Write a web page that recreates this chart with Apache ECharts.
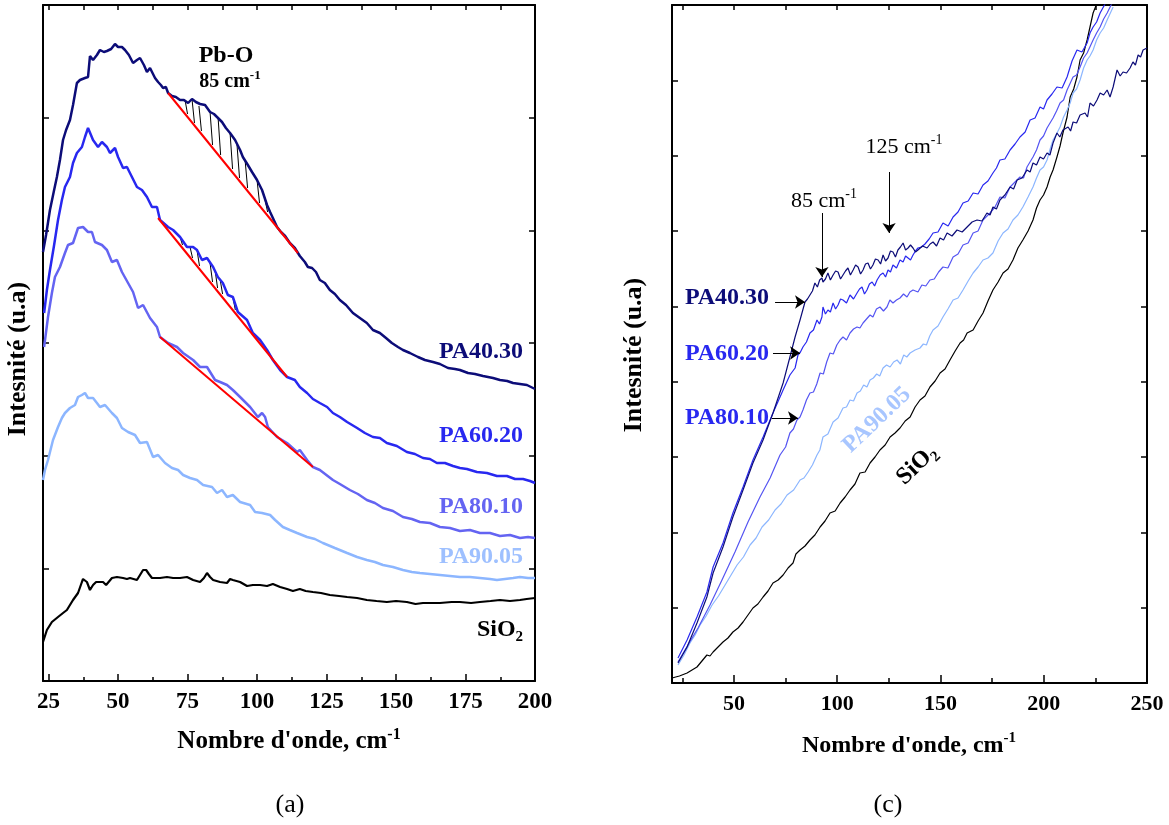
<!DOCTYPE html>
<html><head><meta charset="utf-8">
<script src="https://cdn.jsdelivr.net/npm/echarts@6/dist/echarts.min.js"></script>
<style>html,body{margin:0;padding:0;background:#fff}#c{width:1169px;height:825px}</style>
</head><body><div id="c"></div>
<script>
// ---------------- tick values ----------------
const ticksA_major = [25,50,75,100,125,150,175,200];
const ticksA_minor = [37.5,62.5,87.5,112.5,137.5,162.5,187.5];
const ticksC_major = [50,100,150,200,250];
const ticksC_minor = [25,75,125,175,225];

// ---------------- Panel (a) : [wavenumber cm-1, intensity a.u.] ----------------
const a_PA4030 = [[23.0,429],[24.1,446],[25.5,471],[27.0,491],[28.0,504],[29.1,521],[30.2,541],[31.3,551],[32.7,561],[33.8,576],
[35.2,598],[36.3,601],[38.1,603],[39.2,604],[39.9,625],[41.0,621],[42.4,626],[43.5,631],[44.9,629],[46.0,630],
[47.5,632],[48.9,637],[50.0,634],[51.4,634],[52.5,631],[53.9,626],[55.4,618],[56.8,621],[57.9,623],[59.3,616],
[60.4,609],[61.5,613],[62.2,611],[63.3,603],[64.4,599],[65.4,596],[66.2,593],[67.2,594],[68.0,588],[69.4,585],
[70.8,584],[72.3,581],[73.7,581],[75.2,578],[76.6,582],[78.0,579],[79.5,577],[81.3,576],[83.1,569],[84.5,567],
[85.6,564],[87.4,559],[88.8,553],[90.3,548],[92.1,541],[93.9,531],[94.9,524],[96.7,516],[98.2,509],[100.0,501],
[101.8,491],[103.6,476],[104.7,469],[105.7,463],[107.2,454],[108.6,449],[110.1,445],[111.8,438],[113.6,433],[115.4,425],
[117.2,419],[118.3,414],[119.8,413],[121.2,409],[122.6,401],[124.4,398],[126.2,391],[128.0,387],[129.8,381],[132.0,376],
[134.5,368],[137.0,363],[139.5,358],[141.7,351],[144.2,348],[146.4,343],[148.5,338],[150.7,334],[152.5,331],[155.0,328],
[157.9,324],[160.4,321],[163.3,319],[165.8,317],[168.7,313],[171.2,312],[173.0,311],[175.9,308],[178.4,307],[181.3,305],
[184.9,303],[187.4,301],[190.0,300],[192.1,298],[194.6,297],[197.1,296],[200.0,292]];

const a_PA6020 = [[23.4,368],[24.4,391],[25.5,411],[27.0,436],[28.4,461],[29.8,481],[30.9,494],[32.7,504],[33.8,518],[35.2,528],
[37.0,534],[38.1,544],[39.2,553],[39.9,551],[41.0,541],[42.8,534],[44.2,539],[46.0,534],[47.1,528],[48.9,533],
[50.0,524],[51.8,513],[53.2,514],[55.0,504],[56.8,494],[58.6,491],[60.4,484],[62.2,474],[64.0,474],[65.1,461],
[68.0,454],[69.8,451],[72.3,444],[74.8,434],[77.0,434],[78.4,431],[80.2,421],[82.0,423],[84.2,414],[85.9,404],
[87.7,398],[89.5,386],[91.3,384],[93.1,369],[96.4,361],[98.5,348],[101.1,341],[103.6,331],[105.7,321],[108.3,311],
[110.8,304],[113.6,301],[115.4,294],[118.0,288],[120.1,282],[122.6,278],[125.2,274],[127.3,268],[129.8,264],[132.4,259],
[136.0,253],[138.8,248],[141.7,244],[144.2,243],[146.7,238],[150.3,235],[153.9,229],[156.8,227],[159.7,223],[162.2,222],
[164.7,218],[167.6,218],[170.5,215],[173.0,213],[175.5,212],[179.1,209],[182.7,208],[186.3,205],[189.9,205],[192.8,202],
[195.7,202],[198.2,200],[200.0,198]];

const a_PA8010 = [[23.4,334],[24.8,364],[26.2,388],[27.3,404],[29.1,414],[30.9,428],[32.0,436],[33.8,438],[35.6,453],[37.4,454],
[39.2,449],[40.6,449],[41.7,439],[44.2,436],[46.0,431],[47.8,419],[49.6,421],[51.4,409],[53.6,398],[55.4,389],
[57.2,373],[59.0,376],[61.5,363],[64.0,354],[65.1,344],[68.0,338],[71.2,334],[73.4,328],[77.0,321],[79.5,314],
[82.0,314],[84.9,301],[86.7,299],[89.2,296],[91.3,291],[93.9,284],[97.5,274],[100.3,264],[101.8,268],[102.9,264],
[103.9,254],[107.2,244],[110.8,238],[114.4,229],[115.4,231],[118.0,221],[120.1,214],[122.6,211],[127.3,201],[129.8,197],
[133.4,191],[136.3,187],[139.5,181],[142.4,178],[145.3,173],[148.9,170],[152.5,164],[155.7,162],[158.6,159],[162.2,158],
[165.8,154],[169.4,153],[173.0,150],[176.6,151],[180.2,148],[183.8,148],[187.4,145],[191.0,146],[194.6,143],[197.5,144],[200.0,143]];

const a_PA9005 = [[23.0,201],[23.7,211],[24.8,221],[26.6,241],[28.4,254],[29.8,263],[30.9,268],[32.7,273],[34.5,276],[35.6,284],
[37.0,286],[38.1,288],[39.2,283],[41.0,283],[42.4,278],[43.5,274],[45.3,276],[47.8,268],[49.6,263],[51.4,253],
[53.6,249],[56.1,246],[57.9,238],[60.4,239],[62.6,224],[64.4,226],[66.9,218],[69.4,213],[71.6,211],[73.4,206],
[75.9,203],[78.4,201],[80.6,196],[83.8,194],[85.6,188],[87.4,191],[89.2,184],[91.3,186],[93.9,179],[97.5,176],
[99.3,169],[101.8,168],[104.7,166],[106.5,161],[109.3,154],[111.8,151],[114.4,148],[118.0,144],[120.8,142],[123.7,138],
[128.0,133],[132.4,128],[136.0,124],[139.5,121],[142.4,119],[145.3,116],[148.9,114],[152.5,111],[155.7,109],[158.6,108],
[162.2,107],[165.8,106],[169.4,105],[173.0,104],[176.6,104],[180.2,103],[183.8,102],[186.3,101],[189.2,102],[192.1,103],
[194.6,104],[197.5,103],[200.0,103]];

const a_SiO2 = [[23.0,39],[24.4,51],[26.2,59],[28.4,64],[30.2,68],[31.6,71],[33.8,81],[35.6,88],[37.0,99],[37.4,102],
[38.1,103],[38.8,99],[39.9,91],[41.0,96],[42.1,99],[42.8,100],[44.6,99],[45.7,96],[46.4,96],[47.8,103],
[49.6,104],[51.8,103],[53.2,102],[54.3,103],[56.8,101],[57.9,106],[59.0,111],[60.1,111],[61.1,107],[62.2,103],
[65.1,103],[67.6,104],[69.8,103],[72.3,103],[74.8,104],[77.0,101],[79.5,99],[80.9,103],[82.0,108],[83.1,104],
[84.2,101],[86.7,99],[89.2,98],[90.3,102],[91.3,101],[93.9,99],[96.4,95],[98.5,96],[101.1,96],[103.6,95],
[105.7,97],[108.3,94],[110.8,92],[112.9,90],[115.4,92],[117.5,90],[120.1,89],[123.0,88],[126.2,86],[129.5,85],
[132.4,84],[136.0,83],[139.5,81],[143.0,80],[146.7,79],[150.0,80],[153.9,79],[157.0,77],[159.7,78],[163.0,78],
[165.8,78],[170.0,79],[173.0,79],[177.0,78],[180.2,79],[184.0,80],[187.4,81],[191.0,80],[194.6,81],[197.0,82],[200.0,83]];

// straight baselines drawn under the Pb-O band
const a_base4030 = [[68.0,588],[114.7,428]];
const a_base6020 = [[64.4,463],[110.8,304]];
const a_base8010 = [[65.1,344],[120.1,214]];
// hatch strokes: [x, top, bottom]
const a_hatch4030 = [[74.1,581,567],[76.6,582,558],[79.1,575,550],[83.1,569,536],[86.0,563,526],[90.3,548,512],[92.8,536,503],[95.7,521,493],[100.0,501,478],[102.9,481,469]];
const a_hatch6020 = [[72.3,444,436],[75.9,434,423],[78.4,431,415],[83.1,418,399],[84.9,411,393],[86.7,402,387],[91.3,384,371]];

// ---------------- Panel (c) ----------------
const c_PA4030 = [[22.9,20],[27.3,36],[32.1,60],[36.9,86],[39.9,110],[44.7,136],[49.5,166],[54.4,193],[59.2,220],[64.1,243],
[68.9,270],[73.8,300],[77.1,326],[79.6,346],[82.0,363],[84.4,381],[85.6,384],[86.8,388],[88.0,392],[89.2,400],[90.4,396],
[91.5,403],[92.6,405],[93.1,401],[94.3,404],[95.5,410],[96.7,403],[98.0,408],[99.2,412],[100.4,411],[101.6,404],[102.8,408],
[104.0,412],[105.2,415],[106.4,408],[107.7,413],[108.9,418],[110.1,416],[111.3,409],[112.5,413],[113.7,419],[114.9,420],
[116.1,414],[117.3,418],[118.5,424],[119.8,423],[121.0,419],[122.2,428],[123.4,422],[124.6,425],[125.8,432],[127.0,431],
[128.2,426],[129.4,433],[130.6,436],[131.9,440],[133.1,433],[134.3,435],[135.5,438],[136.7,435],[137.9,431],[139.1,433],
[141.3,437],[143.5,435],[145.0,439],[146.4,441],[148.1,437],[149.8,445],[151.5,443],[153.2,450],[155.6,447],[158.0,453],
[160.5,451],[162.9,456],[165.3,461],[167.7,463],[170.1,462],[172.5,470],[174.0,468],[175.4,476],[177.1,474],[178.8,483],
[181.2,488],[183.7,496],[185.4,494],[187.1,503],[189.5,505],[191.9,513],[193.4,511],[194.8,520],[196.5,518],[198.2,526],
[199.9,524],[201.6,530],[203.0,528],[204.5,540],[206.4,550],[207.8,546],[209.3,553],[211.8,556],[213.0,552],[214.2,561],
[215.9,560],[217.6,568],[220.0,570],[221.2,566],[222.4,580],[224.1,577],[225.8,583],[227.3,590],[229.0,588],[230.7,593],
[232.1,586],[233.6,596],[235.5,613],[237.0,607],[238.4,611],[240.1,610],[241.8,615],[243.2,621],[244.4,618],[245.7,628],
[246.9,626],[248.1,633],[250.0,635]];

const c_PA6020 = [[22.9,25],[27.3,43],[32.1,66],[36.9,91],[39.9,116],[44.7,140],[49.5,170],[54.4,196],[59.2,223],[64.1,246],
[68.9,270],[73.8,293],[77.1,308],[79.6,315],[81.0,328],[82.2,331],[83.4,336],[85.1,341],[86.8,350],[88.5,353],[90.2,363],
[91.4,359],[92.6,366],[93.1,376],[94.3,369],[95.5,373],[96.7,371],[98.0,380],[99.2,374],[100.4,378],[101.6,384],[102.8,383],
[104.5,380],[106.2,388],[107.9,384],[109.6,390],[110.8,394],[112.0,396],[113.2,389],[114.4,393],[115.6,399],[116.9,401],
[118.1,397],[119.3,403],[120.8,408],[122.2,410],[123.4,406],[124.6,413],[125.8,411],[127.0,418],[128.7,415],[130.4,423],
[131.9,421],[133.1,427],[134.3,425],[135.5,423],[136.7,428],[137.9,432],[139.1,435],[140.8,436],[142.5,439],[144.5,444],
[146.4,450],[148.8,451],[151.2,460],[153.7,457],[156.1,466],[158.5,471],[160.9,480],[163.4,482],[165.8,490],[168.2,489],
[170.6,498],[173.0,502],[175.4,510],[177.1,515],[178.8,523],[181.2,524],[183.7,533],[186.1,539],[188.5,546],[191.0,551],
[193.4,563],[195.8,565],[198.2,576],[199.9,574],[201.6,583],[204.0,589],[206.4,596],[208.9,595],[211.3,606],[213.7,622],
[216.1,633],[218.5,631],[221.0,640],[222.4,650],[223.9,656],[225.6,661],[227.3,670],[230.7,683]];

const c_PA8010 = [[22.9,21],[27.7,38],[32.6,55],[38.4,78],[44.2,103],[50.5,131],[56.8,161],[62.6,186],[67.5,205],[72.3,228],
[75.0,236],[77.1,250],[78.8,254],[80.5,263],[82.0,266],[83.4,273],[85.1,283],[86.8,290],[88.5,291],[90.1,299],[91.7,310],
[93.3,309],[94.9,321],[96.5,330],[98.1,329],[99.8,338],[101.4,343],[102.8,346],[104.5,343],[106.2,350],[107.9,354],
[109.6,356],[111.0,355],[112.5,360],[114.2,364],[115.9,368],[117.3,366],[119.0,374],[120.7,376],[122.4,372],[124.1,376],
[125.5,383],[127.0,380],[128.7,383],[130.4,385],[132.1,389],[133.8,386],[135.2,391],[136.7,393],[139.1,391],[141.0,398],
[142.9,397],[144.9,403],[147.0,404],[149.1,411],[151.2,416],[153.6,415],[156.1,426],[158.5,429],[160.9,438],[163.4,440],
[165.8,450],[168.2,452],[170.6,463],[174.0,470],[176.4,476],[178.8,486],[181.2,485],[183.7,496],[186.1,501],[188.5,506],
[190.2,505],[191.9,516],[194.8,526],[196.5,533],[198.2,543],[199.9,547],[201.6,555],[204.5,565],[206.2,572],[207.9,580],
[209.6,583],[211.3,593],[214.2,606],[215.9,608],[217.6,616],[219.3,625],[221.0,630],[223.9,643],[225.6,650],[227.3,656],
[229.0,664],[230.7,670],[233.1,680]];

const c_PA9005 = [[22.9,18],[25.8,28],[28.7,40],[31.2,48],[33.6,58],[36.5,67],[39.4,78],[42.5,87],[45.7,98],[48.6,108],
[51.5,118],[54.6,126],[57.8,138],[60.7,145],[63.6,156],[66.8,163],[69.9,173],[72.8,179],[75.7,188],[78.9,193],[82.0,203],
[83.9,205],[85.9,211],[88.0,218],[90.2,228],[91.6,233],[93.1,246],[95.5,249],[98.0,261],[100.4,265],[102.8,275],[104.5,276],
[106.2,283],[107.9,282],[109.6,290],[111.2,292],[112.8,298],[114.4,296],[115.9,303],[117.5,305],[119.1,309],[120.6,307],
[122.2,315],[123.9,318],[125.6,316],[127.3,321],[129.0,323],[130.6,319],[132.2,328],[133.7,326],[135.3,330],[137.7,333],
[140.1,335],[141.7,339],[143.2,338],[144.8,347],[146.4,353],[148.8,357],[151.2,366],[153.6,374],[156.1,383],[158.5,385],
[160.9,393],[163.4,402],[165.8,410],[168.2,416],[170.6,423],[173.0,425],[175.4,430],[177.9,442],[180.3,450],[182.7,454],
[185.1,463],[187.5,468],[189.9,476],[192.4,486],[194.8,496],[196.5,505],[198.2,513],[199.9,516],[201.6,523],[203.1,534],
[204.5,543],[206.2,549],[207.9,556],[209.6,566],[211.3,573],[212.8,580],[214.2,590],[215.9,594],[217.6,603],[219.3,615],
[221.0,623],[222.4,627],[223.9,633],[225.6,643],[227.3,650],[229.0,655],[230.7,663],[233.6,676]];

const c_SiO2 = [[20.0,5],[23.6,7],[27.3,10],[29.7,13],[32.1,16],[34.5,22],[36.9,28],[38.4,27],[39.9,31],[42.3,36],[44.7,41],
[47.1,45],[49.5,51],[52.0,55],[54.4,61],[56.8,68],[59.2,75],[61.6,79],[64.1,86],[66.5,92],[68.9,100],[71.4,103],[73.8,108],
[76.2,115],[78.6,120],[80.0,129],[82.0,133],[84.4,137],[86.8,143],[89.2,148],[91.7,156],[94.1,162],[96.5,170],[99.0,172],
[101.4,180],[103.8,186],[106.2,193],[108.6,199],[111.0,210],[113.5,211],[115.9,220],[118.3,226],[120.7,233],[123.2,238],
[125.6,246],[128.0,250],[130.4,255],[132.9,262],[135.3,266],[137.7,276],[140.1,283],[142.5,287],[144.9,296],[147.4,302],
[149.8,310],[152.2,314],[154.6,323],[157.1,332],[159.5,340],[161.2,343],[162.9,350],[165.8,353],[168.2,362],[170.6,370],
[173.0,382],[175.4,393],[177.9,401],[180.3,410],[182.7,414],[185.1,423],[187.5,435],[189.9,443],[192.4,452],[194.8,463],
[196.5,475],[198.2,483],[199.9,488],[201.6,496],[203.1,506],[204.5,513],[206.4,526],[207.9,537],[209.3,550],[211.3,566],
[212.8,586],[214.5,594],[216.1,606],[217.6,623],[219.3,630],[221.0,643],[222.4,656],[223.9,670],[225.8,680]];

// annotation arrows in panel (c): [x1,y1,x2,y2]
const c_arrows = [[92.6,470,92.6,406],[125.1,511,125.1,450],[69.9,381,84.4,381],[68.9,330,82.0,330],[68.4,265,81.0,265]];

// ---------------- chart ----------------
const SERIF = '"Liberation Serif","Times New Roman",serif';
const COL = {n:'#0c0c78', b:'#2828f0', m:'#6464f2', m2:'#5555f2', l:'#8cb6ff', k:'#000000'};

function axisX(grid, min, max, pos, ticks, len, showLine, labels, fs) {
  return {
    type:'value', gridIndex:grid, min:min, max:max, position:pos,
    axisLine:{show:showLine, onZero:false, lineStyle:{color:'#000', width:2}},
    axisTick:{show:true, inside:true, length:len, customValues:ticks, lineStyle:{color:'#000', width:1.5}},
    axisLabel: labels ? {show:true, customValues:labels, margin:10, color:'#000', fontFamily:SERIF, fontWeight:'bold', fontSize:fs}
                      : {show:false},
    splitLine:{show:false}
  };
}
function axisY(grid, max, steps, pos) {
  return {
    type:'value', gridIndex:grid, min:0, max:max, interval:max/steps, position:pos,
    axisLine:{show:true, onZero:false, lineStyle:{color:'#000', width:2}},
    axisTick:{show:true, inside:true, length:6, lineStyle:{color:'#000', width:1.5}},
    axisLabel:{show:false}, splitLine:{show:false}
  };
}

function lineSeries(data, color, width, xi, yi, z) {
  return {type:'line', data:data, xAxisIndex:xi, yAxisIndex:yi, showSymbol:false, symbol:'none',
          lineStyle:{color:color, width:width}, itemStyle:{color:color}, z:z||2, clip:true, animation:false, silent:true};
}
function hatchSeries(h) {
  return {type:'lines', coordinateSystem:'cartesian2d', xAxisIndex:0, yAxisIndex:0, z:1, silent:true, animation:false,
    lineStyle:{color:'#000', width:1, opacity:1},
    data:h.map(r => ({coords:[[r[0], r[1]], [r[0]+0.9, r[2]]]}))};
}

const series = [
  hatchSeries(a_hatch4030), hatchSeries(a_hatch6020),
  lineSeries(a_PA4030, COL.n, 2.5, 0, 0),
  lineSeries(a_PA6020, COL.b, 2.5, 0, 0),
  lineSeries(a_PA8010, COL.m, 2.5, 0, 0),
  lineSeries(a_PA9005, COL.l, 2.5, 0, 0),
  lineSeries(a_SiO2, COL.k, 2.2, 0, 0),
  lineSeries(a_base4030, '#ff0000', 2, 0, 0, 4),
  lineSeries(a_base6020, '#ff0000', 2, 0, 0, 4),
  lineSeries(a_base8010, '#ff0000', 2, 0, 0, 4),
  lineSeries(c_SiO2, COL.k, 1.2, 3, 2),
  lineSeries(c_PA9005, COL.l, 1.2, 3, 2),
  lineSeries(c_PA8010, COL.m2, 1.2, 3, 2),
  lineSeries(c_PA6020, COL.b, 1.2, 3, 2),
  lineSeries(c_PA4030, COL.n, 1.2, 3, 2),
  {type:'lines', coordinateSystem:'cartesian2d', xAxisIndex:3, yAxisIndex:2, z:5, silent:true, animation:false,
   symbol:['none','arrow'], symbolSize:[7,10], lineStyle:{color:'#000', width:1, opacity:1},
   data:c_arrows.map(a => ({coords:[[a[0],a[1]],[a[2],a[3]]]}))}
];

function txt(x, y, text, opt) {
  opt = opt || {};
  const w = opt.weight || 'bold', c = opt.color || '#000', ss = opt.supSize || 14;
  return {type:'text', x:x, y:y, rotation:opt.rot||0, z:10, silent:true,
    style:{text:text, fill:c, fontFamily:SERIF, fontSize:opt.size||22, fontWeight:w,
      align:'center', verticalAlign:'middle', lineHeight:opt.lh||undefined,
      rich:{sup:{fontSize:ss, fontFamily:SERIF, fontWeight:w, fill:c, verticalAlign:'top'},
            sub:{fontSize:ss, fontFamily:SERIF, fontWeight:w, fill:c, verticalAlign:'bottom'}}}};
}

const graphics = [
  // panel (a)
  txt(18, 359, 'Intesnité (u.a)', {rot:Math.PI/2, size:26}),
  txt(289, 742, "Nombre d'onde, cm{sup|-1}", {size:25, lh:31, supSize:16}),
  txt(290, 805, '(a)', {size:26, weight:'normal'}),
  txt(226, 56, 'Pb-O', {size:24}),
  txt(230, 82, '85 cm{sup|-1}', {size:20, lh:25, supSize:13}),
  txt(481, 352, 'PA40.30', {size:24, color:COL.n}),
  txt(481, 436, 'PA60.20', {size:24, color:COL.b}),
  txt(481, 507, 'PA80.10', {size:24, color:COL.m}),
  txt(481, 557, 'PA90.05', {size:24, color:'#9ec0ff'}),
  txt(500, 630, 'SiO{sub|2}', {size:24, lh:29, supSize:15}),
  // panel (c)
  txt(634, 355, 'Intesnité (u.a)', {rot:Math.PI/2, size:26}),
  txt(909, 746, "Nombre d'onde, cm{sup|-1}", {size:24, lh:30, supSize:15}),
  txt(888, 805, '(c)', {size:26, weight:'normal'}),
  txt(824, 201, '85 cm{sup|-1}', {size:22, weight:'normal', lh:27, supSize:14}),
  txt(904, 147, '125 cm{sup|-1}', {size:22, weight:'normal', lh:27, supSize:14}),
  txt(727, 298, 'PA40.30', {size:24, color:COL.n}),
  txt(727, 354, 'PA60.20', {size:24, color:COL.b}),
  txt(727, 418, 'PA80.10', {size:24, color:COL.b}),
  txt(877, 420, 'PA90.05', {size:24, color:'#a8c6ff', rot:0.76}),
  txt(917, 465, 'SiO{sub|2}', {size:24, rot:0.76, lh:29, supSize:15})
];

const option = {
  animation:false,
  backgroundColor:'#fff',
  grid:[{left:43, top:5, width:492, height:676}, {left:672, top:5, width:475, height:678}],
  xAxis:[
    axisX(0, 23, 200, 'bottom', ticksA_major, 7, true, ticksA_major, 23),
    axisX(0, 23, 200, 'bottom', ticksA_minor, 4, false, null),
    axisX(0, 23, 200, 'top', ticksA_major.concat(ticksA_minor), 5, true, null),
    axisX(1, 20, 250, 'bottom', ticksC_major, 8, true, ticksC_major, 22),
    axisX(1, 20, 250, 'bottom', ticksC_minor, 5, false, null),
    axisX(1, 20, 250, 'top', ticksC_major.concat(ticksC_minor), 5, true, null)
  ],
  yAxis:[
    axisY(0, 676, 6, 'left'), axisY(0, 676, 6, 'right'),
    axisY(1, 678, 9, 'left'), axisY(1, 678, 9, 'right')
  ],
  series:series,
  graphic:graphics
};
const chart = echarts.init(document.getElementById('c'));
chart.setOption(option);
</script></body></html>
